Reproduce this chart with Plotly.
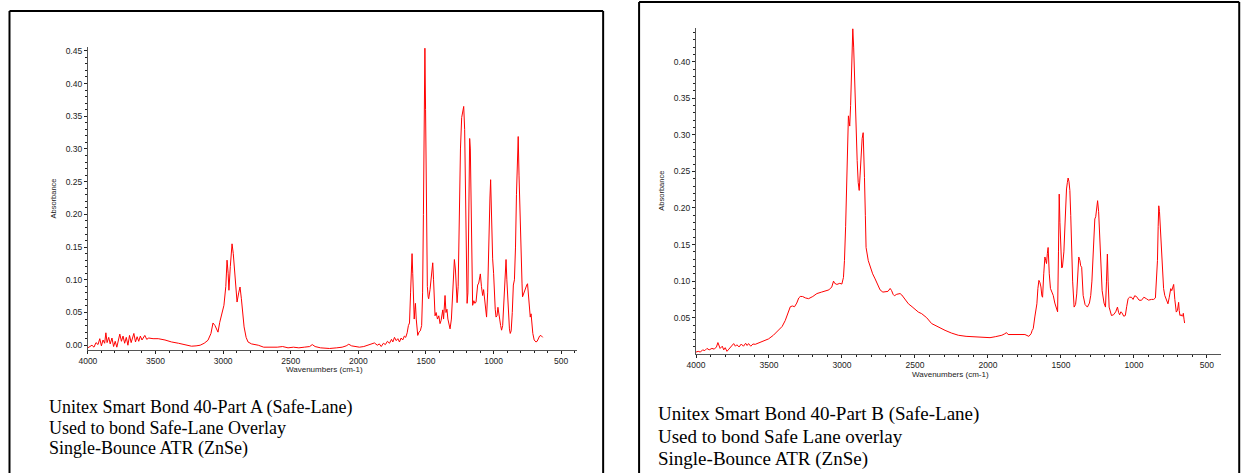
import plotly.graph_objects as go

W, H = 1244, 473

# ---------------- Data ----------------
part_a_wavenumbers = [
    4000, 3985, 3970, 3955, 3940, 3925, 3912, 3900, 3888, 3876, 3867, 3858, 3846, 3835, 3822, 3810,
    3798, 3786, 3775, 3764, 3752, 3740, 3728, 3716, 3704, 3692, 3680, 3670, 3660, 3648, 3636, 3624,
    3612, 3600, 3590, 3579, 3565, 3550, 3518, 3480, 3430, 3382, 3330, 3280, 3234, 3200, 3170, 3140,
    3112, 3090, 3075, 3060, 3045, 3038, 3025, 3008, 2994, 2980, 2971, 2963, 2957, 2947, 2934, 2925,
    2915, 2905, 2897, 2885, 2875, 2865, 2855, 2845, 2830, 2816, 2790, 2767, 2740, 2700, 2644, 2600,
    2560, 2520, 2480, 2440, 2400, 2360, 2341, 2320, 2280, 2213, 2160, 2120, 2090, 2071, 2050, 2020,
    1992, 1960, 1930, 1905, 1881, 1860, 1845, 1831, 1815, 1800, 1785, 1770, 1755, 1745, 1733, 1720,
    1708, 1696, 1684, 1672, 1660, 1650, 1639, 1630, 1622, 1614, 1608, 1603, 1598, 1592, 1587, 1582,
    1578, 1572, 1566, 1561, 1552, 1542, 1532, 1525, 1519, 1513, 1508, 1503, 1497, 1490, 1484, 1480,
    1470, 1460, 1450, 1444, 1438, 1433, 1425, 1415, 1405, 1396, 1388, 1380, 1376, 1370, 1364, 1359,
    1352, 1345, 1338, 1330, 1322, 1312, 1300, 1290, 1282, 1275, 1270, 1262, 1253, 1245, 1236, 1228,
    1221, 1214, 1207, 1200, 1196, 1190, 1184, 1177, 1172, 1166, 1160, 1155, 1146, 1138, 1130, 1124,
    1118, 1110, 1104, 1098, 1090, 1081, 1074, 1066, 1058, 1052, 1044, 1038, 1032, 1027, 1022, 1016,
    1012, 1007, 1000, 995, 988, 982, 975, 968, 963, 955, 948, 941, 933, 925, 918, 913,
    908, 902, 896, 890, 883, 877, 870, 862, 854, 846, 838, 831, 825, 818, 812, 803,
    796, 790, 786, 780, 773, 768, 760, 755, 749, 742, 736, 729, 723, 717, 710, 700,
    693, 687, 678, 668, 660, 650, 644, 637,
]
part_a_absorbance = [
    -0.004, -0.002, 0.000, -0.003, 0.004, 0.001, 0.010, -0.001, 0.008, 0.003, 0.019, 0.004, 0.012, 0.002, 0.011, -0.002,
    0.006, -0.003, 0.009, 0.017, 0.006, 0.014, 0.003, 0.012, 0.000, 0.015, 0.004, 0.011, 0.018, 0.005, 0.013, 0.006,
    0.014, 0.008, 0.012, 0.015, 0.009, 0.011, 0.010, 0.010, 0.008, 0.005, 0.003, 0.001, -0.0015, -0.001, 0.000, 0.003,
    0.0076, 0.018, 0.034, 0.030, 0.022, 0.020, 0.035, 0.051, 0.061, 0.090, 0.130, 0.110, 0.084, 0.120, 0.155, 0.140,
    0.114, 0.085, 0.066, 0.080, 0.089, 0.071, 0.050, 0.028, 0.012, 0.005, 0.002, 0.001, 0.000, -0.003, -0.0035, -0.003,
    -0.002, -0.004, -0.003, -0.004, -0.003, -0.002, 0.001, -0.002, -0.004, -0.005, -0.004, -0.003, -0.001, 0.0015, -0.001, -0.002,
    -0.003, -0.002, 0.000, 0.002, 0.0035, 0.000, 0.002, -0.002, 0.003, 0.001, 0.006, 0.003, 0.009, 0.005, 0.012, 0.007,
    0.010, 0.005, 0.011, 0.008, 0.014, 0.012, 0.019, 0.030, 0.034, 0.080, 0.125, 0.140, 0.110, 0.060, 0.040, 0.055,
    0.064, 0.040, 0.022, 0.015, 0.020, 0.022, 0.030, 0.080, 0.200, 0.380, 0.454, 0.360, 0.180, 0.090, 0.074, 0.071,
    0.085, 0.105, 0.126, 0.100, 0.065, 0.045, 0.050, 0.040, 0.045, 0.033, 0.038, 0.050, 0.054, 0.040, 0.060, 0.076,
    0.050, 0.055, 0.040, 0.030, 0.025, 0.040, 0.090, 0.131, 0.115, 0.075, 0.065, 0.090, 0.206, 0.300, 0.348, 0.355,
    0.365, 0.330, 0.220, 0.100, 0.064, 0.080, 0.200, 0.316, 0.300, 0.180, 0.085, 0.061, 0.068, 0.064, 0.066, 0.080,
    0.092, 0.095, 0.100, 0.109, 0.090, 0.076, 0.085, 0.065, 0.048, 0.043, 0.080, 0.150, 0.198, 0.225, 0.253, 0.200,
    0.160, 0.132, 0.110, 0.079, 0.055, 0.043, 0.045, 0.058, 0.053, 0.040, 0.030, 0.023, 0.030, 0.060, 0.100, 0.120,
    0.131, 0.100, 0.068, 0.040, 0.025, 0.018, 0.022, 0.050, 0.092, 0.100, 0.150, 0.230, 0.290, 0.319, 0.260, 0.175,
    0.130, 0.095, 0.074, 0.078, 0.083, 0.086, 0.090, 0.092, 0.094, 0.075, 0.052, 0.043, 0.048, 0.033, 0.018, 0.008,
    0.006, 0.005, 0.006, 0.010, 0.014, 0.015, 0.013, 0.012,
]

part_b_wavenumbers = [
    4000, 3985, 3970, 3955, 3940, 3925, 3910, 3891, 3875, 3860, 3850, 3845, 3835, 3820, 3810, 3800,
    3788, 3775, 3760, 3750, 3742, 3730, 3720, 3705, 3690, 3675, 3660, 3650, 3640, 3625, 3610, 3594,
    3575, 3550, 3525, 3503, 3470, 3434, 3410, 3389, 3370, 3354, 3340, 3325, 3310, 3296, 3286, 3270,
    3250, 3229, 3200, 3172, 3140, 3115, 3090, 3070, 3058, 3050, 3035, 3015, 3001, 2990, 2983, 2975,
    2967, 2960, 2956, 2951, 2947, 2941, 2937, 2931, 2926, 2920, 2915, 2910, 2903, 2896, 2889, 2882,
    2876, 2869, 2862, 2855, 2850, 2846, 2840, 2835, 2820, 2807, 2790, 2773, 2755, 2739, 2720, 2705,
    2685, 2670, 2660, 2650, 2641, 2625, 2610, 2602, 2590, 2570, 2545, 2520, 2500, 2477, 2454, 2420,
    2386, 2340, 2294, 2250, 2203, 2150, 2089, 2040, 1986, 1950, 1920, 1905, 1885, 1873, 1862, 1850,
    1820, 1793, 1770, 1747, 1720, 1705, 1697, 1690, 1679, 1665, 1658, 1651, 1644, 1637, 1631, 1626,
    1618, 1610, 1604, 1599, 1593, 1588, 1580, 1572, 1562, 1553, 1542, 1530, 1523, 1517, 1512, 1507,
    1501, 1495, 1490, 1480, 1473, 1467, 1462, 1456, 1451, 1445, 1439, 1433, 1428, 1420, 1410, 1400,
    1392, 1385, 1378, 1370, 1365, 1358, 1348, 1335, 1319, 1305, 1296, 1288, 1280, 1274, 1268, 1262,
    1256, 1249, 1242, 1234, 1226, 1218, 1205, 1195, 1188, 1182, 1177, 1170, 1154, 1140, 1125, 1113,
    1105, 1098, 1090, 1083, 1070, 1059, 1050, 1040, 1030, 1017, 1006, 995, 983, 965, 949, 932,
    915, 900, 880, 865, 853, 846, 839, 834, 830, 825, 819, 812, 805, 797, 789, 778,
    767, 758, 748, 741, 735, 728, 720, 710, 702, 694, 690, 685, 676, 671, 665, 662,
    657, 653,
]
part_b_absorbance = [
    0.003, 0.004, 0.003, 0.006, 0.005, 0.008, 0.006, 0.008, 0.007, 0.010, 0.016, 0.012, 0.008, 0.011, 0.006, 0.009,
    0.004, 0.007, 0.010, 0.012, 0.0146, 0.011, 0.013, 0.010, 0.014, 0.011, 0.015, 0.012, 0.0146, 0.011, 0.014, 0.0136,
    0.015, 0.017, 0.019, 0.021, 0.026, 0.033, 0.038, 0.046, 0.055, 0.065, 0.066, 0.065, 0.070, 0.077, 0.079, 0.079,
    0.077, 0.076, 0.079, 0.083, 0.085, 0.086, 0.088, 0.092, 0.100, 0.097, 0.0955, 0.097, 0.096, 0.105, 0.128, 0.175,
    0.228, 0.300, 0.326, 0.318, 0.312, 0.340, 0.369, 0.420, 0.445, 0.420, 0.380, 0.347, 0.300, 0.265, 0.235, 0.224,
    0.245, 0.278, 0.295, 0.303, 0.280, 0.242, 0.190, 0.146, 0.128, 0.119, 0.110, 0.103, 0.094, 0.088, 0.085, 0.085,
    0.086, 0.090, 0.087, 0.082, 0.080, 0.082, 0.083, 0.083, 0.081, 0.076, 0.069, 0.065, 0.061, 0.0577, 0.0555, 0.050,
    0.042, 0.037, 0.0327, 0.029, 0.026, 0.0245, 0.0236, 0.023, 0.0227, 0.024, 0.025, 0.026, 0.028, 0.0296, 0.027, 0.027,
    0.0275, 0.028, 0.027, 0.027, 0.0245, 0.028, 0.0327, 0.035, 0.051, 0.069, 0.090, 0.101, 0.098, 0.092, 0.080, 0.078,
    0.110, 0.133, 0.128, 0.124, 0.138, 0.146, 0.110, 0.090, 0.085, 0.0805, 0.070, 0.060, 0.058, 0.140, 0.219, 0.180,
    0.128, 0.118, 0.119, 0.140, 0.174, 0.210, 0.226, 0.235, 0.241, 0.236, 0.224, 0.190, 0.151, 0.100, 0.0645, 0.068,
    0.0825, 0.110, 0.133, 0.128, 0.121, 0.119, 0.0805, 0.068, 0.0645, 0.070, 0.0805, 0.100, 0.133, 0.165, 0.185, 0.188,
    0.200, 0.210, 0.195, 0.165, 0.120, 0.087, 0.070, 0.0645, 0.100, 0.137, 0.100, 0.0645, 0.053, 0.054, 0.058, 0.0645,
    0.057, 0.054, 0.058, 0.057, 0.052, 0.053, 0.065, 0.076, 0.078, 0.078, 0.075, 0.080, 0.079, 0.074, 0.0737, 0.078,
    0.076, 0.074, 0.075, 0.075, 0.077, 0.100, 0.128, 0.175, 0.203, 0.195, 0.174, 0.140, 0.110, 0.090, 0.0805, 0.075,
    0.069, 0.078, 0.0897, 0.087, 0.092, 0.0955, 0.075, 0.0577, 0.060, 0.071, 0.060, 0.053, 0.054, 0.052, 0.053, 0.056,
    0.048, 0.0427,
]

part_a_yticks = [0.00, 0.05, 0.10, 0.15, 0.20, 0.25, 0.30, 0.35, 0.40, 0.45]
part_b_yticks = [0.05, 0.10, 0.15, 0.20, 0.25, 0.30, 0.35, 0.40]
x_ticks = [4000, 3500, 3000, 2500, 2000, 1500, 1000, 500]

caption_a = ["Unitex Smart Bond 40-Part A (Safe-Lane)",
             "Used to bond Safe-Lane Overlay",
             "Single-Bounce ATR (ZnSe)"]
caption_b = ["Unitex Smart Bond 40-Part B (Safe-Lane)",
             "Used to bond Safe Lane overlay",
             "Single-Bounce ATR (ZnSe)"]

# ---------------- Figure ----------------
def px(x):
    # horizontal placement (pixels in the target picture -> paper fraction)
    xf = (x - 9.0) / 0.9942
    return max(xf, 0.5) / W

def py(y):
    return 1 - y / H

fig = go.Figure()
fig.add_trace(go.Scatter(x=part_a_wavenumbers, y=part_a_absorbance, mode="lines",
                         line=dict(color="#ff0000", width=1), xaxis="x", yaxis="y",
                         showlegend=False, hoverinfo="skip"))
fig.add_trace(go.Scatter(x=part_b_wavenumbers, y=part_b_absorbance, mode="lines",
                         line=dict(color="#ff0000", width=1), xaxis="x2", yaxis="y2",
                         showlegend=False, hoverinfo="skip"))

tick_font = dict(family="Liberation Sans, Arial", size=8.5, color="#222")

def xaxis_cfg(domain, rng, anchor):
    return dict(domain=domain, range=rng, anchor=anchor, showline=True, linecolor="#555",
                linewidth=1, ticks="outside", ticklen=3, tickcolor="#222",
                tickvals=x_ticks, ticktext=[str(v) for v in x_ticks], tickfont=tick_font,
                showgrid=False, zeroline=False,
                minor=dict(ticks="outside", ticklen=2, dtick=100, tickcolor="#222"))

def yaxis_cfg(domain, rng, anchor, vals):
    return dict(domain=domain, range=rng, anchor=anchor, showline=True, linecolor="#555",
                linewidth=1, ticks="outside", ticklen=3, tickcolor="#222",
                tickvals=vals, ticktext=["%.2f" % v for v in vals], tickfont=tick_font,
                showgrid=False, zeroline=False,
                minor=dict(ticks="outside", ticklen=2, dtick=0.01, tick0=0, tickcolor="#222"))

fig.update_layout(
    width=W, height=H, autosize=False,
    margin=dict(l=0, r=0, t=0, b=0),
    paper_bgcolor="white", plot_bgcolor="white",
    showlegend=False,
    xaxis=xaxis_cfg([px(88), px(578)], [4000, 382], "y"),
    yaxis=yaxis_cfg([py(350), py(46)], [-0.0077, 0.456], "x", part_a_yticks),
    xaxis2=xaxis_cfg([px(697), px(1223)], [4000, 402], "y2"),
    yaxis2=yaxis_cfg([py(353.5), py(27)], [0.0007, 0.4462], "x2", part_b_yticks),
)

# Panel borders
border = dict(color="black", width=2)
for (x0, y0, x1, y1) in [(8, 10, 8, 480), (8, 10, 604, 10), (604, 10, 604, 480),
                         (640, 1, 640, 480), (640, 1, 1241, 1), (1241, 1, 1241, 480)]:
    fig.add_shape(type="line", xref="paper", yref="paper",
                  x0=px(x0), y0=py(y0), x1=px(x1), y1=py(y1), line=border)

ytitle_font = dict(family="Liberation Sans, Arial", size=7.5, color="#222")
xtitle_font = dict(family="Liberation Sans, Arial", size=8, color="#222")
ann = []
ann.append(dict(text="Absorbance", x=px(54), y=py(198), textangle=-90, font=ytitle_font))
ann.append(dict(text="Wavenumbers (cm-1)", x=px(325), y=py(369), font=xtitle_font))
ann.append(dict(text="Absorbance", x=px(663), y=py(190), textangle=-90, font=ytitle_font))
ann.append(dict(text="Wavenumbers (cm-1)", x=px(952), y=py(374), font=xtitle_font))

cap_font_a = dict(family="Liberation Serif, Times New Roman", size=18, color="black")
cap_font_b = dict(family="Liberation Serif, Times New Roman", size=19, color="black")
for i, line in enumerate(caption_a):
    ann.append(dict(text=line, x=px(47), y=py(407 + 20.5 * i), xanchor="left", font=cap_font_a))
for i, line in enumerate(caption_b):
    ann.append(dict(text=line, x=px(657), y=py(414 + 22.5 * i), xanchor="left", font=cap_font_b))

for a in ann:
    a.setdefault("xanchor", "center")
    a.update(xref="paper", yref="paper", yanchor="middle", showarrow=False)
    fig.add_annotation(**a)

fig.write_html(
    "out.html",
    config={"displayModeBar": False, "responsive": False},
    post_script=(
        "document.documentElement.style.margin='0';document.documentElement.style.padding='0';"
        "document.body.style.margin='0';document.body.style.padding='0';"
        "document.body.style.overflow='hidden';document.documentElement.style.overflow='hidden';"
        "var gd=document.getElementById('{plot_id}');"
        "gd.style.position='absolute';gd.style.left='0px';gd.style.top='0px';"
    ),
)
